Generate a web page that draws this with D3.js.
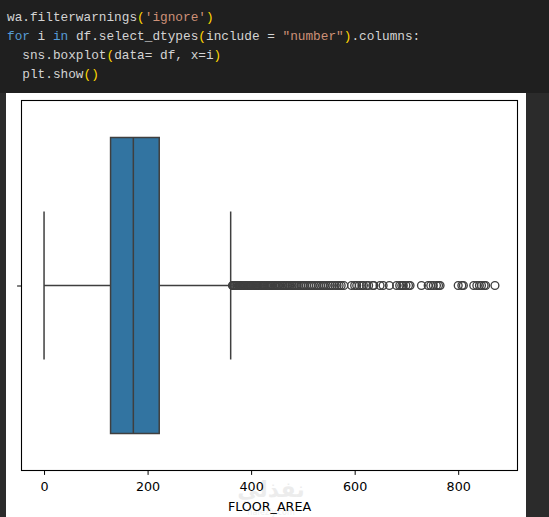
<!DOCTYPE html>
<html><head><meta charset="utf-8">
<script src="https://cdn.jsdelivr.net/npm/d3@7"></script>
<style>html,body{margin:0;padding:0;background:#1f1f1f;overflow:hidden}</style>
</head><body><svg id="c" width="549" height="517"></svg>
<script>
// ---- data ----
const xLabel = "FLOOR_AREA";
const xTicks = [0, 200, 400, 600, 800];
const whiskerLow = [0];
const q1 = [128.5];
const median = [172.5];
const q3 = [222.5];
const whiskerHigh = [360.5];
const outliers = [
  364, 365, 367, 368, 370, 372, 373, 375, 377, 378, 380, 382, 384, 385, 387, 389, 390, 392, 394, 396,
  398, 400, 401, 403, 405, 407, 409, 410, 412, 414, 416, 418, 420, 422, 424, 425, 427, 430, 432, 434,
  436, 438, 440, 442, 445, 447, 450, 452, 455, 457, 460, 462, 465, 468, 470, 473, 476, 479,
  482, 485, 489, 492, 496, 500, 503, 507, 511, 515, 518, 522, 526, 530, 534, 538, 541, 545, 549, 553,
  557, 562, 566, 570, 574,
  579, 594, 600, 604, 609, 614, 617, 623, 627, 635, 637, 649, 655, 667, 681, 687, 691, 694, 699, 704,
  707, 729, 742, 747, 752, 758, 762, 765, 800, 807, 810, 830, 836, 841, 845, 850, 853, 871
];
const codeLines = [
  [["wa.filterwarnings", "#d4d4d4"], ["(", "#ffd700"], ["'ignore'", "#ce9178"], [")", "#ffd700"]],
  [["for", "#569cd6"], [" i ", "#d4d4d4"], ["in", "#569cd6"], [" df.select_dtypes", "#d4d4d4"], ["(", "#ffd700"], ["include = ", "#d4d4d4"], ["\"number\"", "#ce9178"], [")", "#ffd700"], [".columns:", "#d4d4d4"]],
  [["  sns.boxplot", "#d4d4d4"], ["(", "#ffd700"], ["data= df, x=i", "#d4d4d4"], [")", "#ffd700"]],
  [["  plt.show", "#d4d4d4"], ["()", "#ffd700"]]
];

// ---- drawing ----
const svg = d3.select("#c");
svg.append("rect").attr("x", 0).attr("y", 0).attr("width", 549).attr("height", 517).attr("fill", "#1f1f1f");
svg.append("rect").attr("x", 0).attr("y", 93).attr("width", 549).attr("height", 424).attr("fill", "#2b2b2b");
svg.append("rect").attr("x", 6).attr("y", 93).attr("width", 520).attr("height", 424).attr("fill", "#ffffff");

// code cell
const code = svg.append("g").attr("font-family", "'Liberation Mono', 'DejaVu Sans Mono', monospace").attr("font-size", 12.75);
codeLines.forEach((line, i) => {
  const t = code.append("text").attr("x", 7).attr("y", 21 + i * 19).attr("xml:space", "preserve").style("white-space", "pre");
  line.forEach(([s, c]) => t.append("tspan").attr("fill", c).text(s));
});

// plot
const L = 21.5, R = 517.5, T = 100.5, B = 470.5;
const allVals = whiskerLow.concat(whiskerHigh, outliers);
const mn = d3.min(allVals), mx = d3.max(allVals), pad = (mx - mn) * 0.05;
const x = d3.scaleLinear().domain([mn - pad, mx + pad]).range([L, R]);
const y = d3.scaleLinear().domain([-0.5, 0.5]).range([T, B]);
const lineCol = "#3f3f3f";
const g = svg.append("g");

const i = 0;
// whiskers
g.append("line").attr("x1", x(whiskerLow[i])).attr("x2", x(q1[i])).attr("y1", y(0)).attr("y2", y(0)).attr("stroke", lineCol).attr("stroke-width", 1.5);
g.append("line").attr("x1", x(q3[i])).attr("x2", x(whiskerHigh[i])).attr("y1", y(0)).attr("y2", y(0)).attr("stroke", lineCol).attr("stroke-width", 1.5);
// caps
[whiskerLow[i], whiskerHigh[i]].forEach(v => {
  g.append("line").attr("x1", x(v)).attr("x2", x(v)).attr("y1", y(-0.2)).attr("y2", y(0.2)).attr("stroke", lineCol).attr("stroke-width", 1.5);
});
// box
g.append("rect").attr("x", x(q1[i])).attr("y", y(-0.4)).attr("width", x(q3[i]) - x(q1[i])).attr("height", y(0.4) - y(-0.4))
  .attr("fill", "#3274a1").attr("stroke", lineCol).attr("stroke-width", 1.5);
g.append("line").attr("x1", x(median[i])).attr("x2", x(median[i])).attr("y1", y(-0.4)).attr("y2", y(0.4)).attr("stroke", lineCol).attr("stroke-width", 1.5);
// fliers
g.selectAll("circle.f").data(outliers).enter().append("circle").attr("class", "f")
  .attr("cx", d => x(d)).attr("cy", y(0)).attr("r", 3.9)
  .attr("fill", "none").attr("stroke", lineCol).attr("stroke-width", 1.35);

// frame
svg.append("rect").attr("x", L).attr("y", T).attr("width", R - L).attr("height", B - T).attr("fill", "none").attr("stroke", "#000").attr("stroke-width", 1.1);

// axes
const ax = svg.append("g").attr("transform", `translate(0,${B})`)
  .call(d3.axisBottom(x).tickValues(xTicks).tickSize(4.4).tickFormat(d3.format("d")));
ax.select(".domain").remove();
ax.selectAll("line").attr("stroke", "#000").attr("stroke-width", 1);
ax.selectAll("text").attr("y", 20.5).attr("dy", null).attr("fill", "#000")
  .attr("font-family", "'DejaVu Sans', sans-serif").attr("font-size", 12.7);

const ay = svg.append("g").attr("transform", `translate(${L},0)`)
  .call(d3.axisLeft(y).tickValues([0]).tickSize(4.4).tickFormat(() => ""));
ay.select(".domain").remove();
ay.selectAll("line").attr("stroke", "#000").attr("stroke-width", 1);

// watermark (faint)
svg.append("text").attr("x", 271).attr("y", 497).attr("text-anchor", "middle").attr("font-family", "'DejaVu Sans', sans-serif")
  .attr("font-weight", "bold").attr("font-size", 22).attr("fill", "#000").attr("opacity", 0.07).text("نفذلي");
svg.append("text").attr("x", 271).attr("y", 515).attr("text-anchor", "middle").attr("font-family", "'DejaVu Sans', sans-serif")
  .attr("font-size", 8).attr("fill", "#000").attr("opacity", 0.07).text("nafezly.com");

// x label
svg.append("text").attr("x", (L + R) / 2).attr("y", 510.5).attr("text-anchor", "middle")
  .attr("font-family", "'DejaVu Sans', sans-serif").attr("font-size", 12.7).attr("fill", "#000").text(xLabel);
</script></body></html>
